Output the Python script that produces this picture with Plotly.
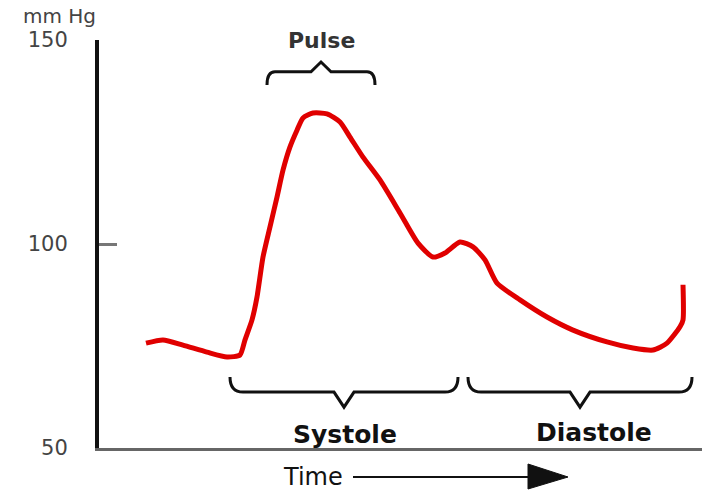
import plotly.graph_objects as go

# ---- data ----
time = [47, 64, 84, 108, 128, 141, 146, 153, 158, 164, 171, 178, 184, 191, 198, 204,
        214, 228, 241, 251, 264, 281, 301, 319, 334, 346, 361, 374, 386, 398, 421,
        448, 474, 508, 534, 554, 568, 581, 584, 584]
pressure = [75.7, 76.5, 75.2, 73.5, 72.3, 72.8, 76.5, 81.4, 87.0, 96.8, 104.2, 111.5,
            118.1, 123.8, 127.9, 130.9, 132.1, 131.9, 129.9, 126.2, 121.3, 115.7, 107.6,
            100.2, 96.8, 97.8, 100.5, 99.3, 96.1, 90.4, 86.3, 82.1, 78.9, 76.0, 74.5,
            74.0, 75.7, 79.7, 81.4, 90.0]
tick_vals = [50, 100, 150]
tick_text = ["50", "100", "150"]
phase_names = ["Systole", "Diastole"]
phase_spans = [(131, 359), (369, 593)]
pulse_span = (168, 276)

W, H = 702, 490
ML, MR, MT, MB = 99, 0, 40, 42
XR = (0, W - ML - MR)
YR = (50, 150)


def px_to_paper(px, py):
    return (px - ML) / (W - ML - MR), (H - MB - py) / (H - MT - MB)


def brace_down(x0, x1, ytop, ymid, ytip, curl=13):
    xm = (x0 + x1) / 2
    return (f"M {x0},{ytop} Q {x0},{ymid} {x0+curl},{ymid} L {xm-10},{ymid} "
            f"L {xm},{ytip} L {xm+10},{ymid} L {x1-curl},{ymid} Q {x1},{ymid} {x1},{ytop}")


fig = go.Figure()
fig.add_trace(go.Scatter(x=time, y=pressure, mode="lines",
                         line=dict(color="#e00000", width=5, shape="spline", smoothing=0.6),
                         hoverinfo="skip"))

shapes = []
for (a, b) in phase_spans:
    shapes.append(dict(type="path", xref="x", yref="y",
                       path=brace_down(a, b, 67.4, 63.7, 60.0),
                       line=dict(color="#111", width=3)))
# pulse brace (tip up)
shapes.append(dict(type="path", xref="x", yref="y",
                   path=brace_down(pulse_span[0], pulse_span[1], 139.0, 142.2, 144.6, curl=8),
                   line=dict(color="#111", width=3)))

# time arrow
x0, y0 = px_to_paper(353, 477)
x1, _ = px_to_paper(530, 477)
shapes.append(dict(type="line", xref="paper", yref="paper", x0=x0, y0=y0, x1=x1, y1=y0,
                   line=dict(color="#111", width=2)))
ta = px_to_paper(528, 464)
tb = px_to_paper(568, 477)
tc = px_to_paper(528, 489)
shapes.append(dict(type="path", xref="paper", yref="paper",
                   path=f"M {ta[0]},{ta[1]} L {tb[0]},{tb[1]} L {tc[0]},{tc[1]} Z",
                   fillcolor="#111", line=dict(color="#111", width=1)))

annotations = []
mx, my = px_to_paper(59, 16)
annotations.append(dict(x=mx, y=my, xref="paper", yref="paper", text="mm Hg",
                        xanchor="center", yanchor="middle",
                        showarrow=False, font=dict(family="DejaVu Sans", size=20, color="#444")))
annotations.append(dict(x=(pulse_span[0] + pulse_span[1]) / 2, y=150, xref="x", yref="y",
                        text="Pulse", showarrow=False, xanchor="center", yanchor="middle",
                        font=dict(family="DejaVu Sans", size=22, color="#333", weight="bold")))
for name, (a, b), cx, v in zip(phase_names, phase_spans, [246, 495], [53.2, 53.7]):
    annotations.append(dict(x=cx, y=v, xref="x", yref="y", text=name, showarrow=False,
                            xanchor="center", yanchor="middle",
                            font=dict(family="DejaVu Sans", size=25, color="#111", weight="bold")))
tx, ty = px_to_paper(313, 477)
annotations.append(dict(x=tx, y=ty, xref="paper", yref="paper", text="Time", showarrow=False,
                        xanchor="center", yanchor="middle",
                        font=dict(family="DejaVu Sans", size=24, color="#111")))

fig.update_layout(
    width=W, height=H,
    margin=dict(l=ML, r=MR, t=MT, b=MB),
    paper_bgcolor="white", plot_bgcolor="white",
    showlegend=False,
    shapes=shapes, annotations=annotations,
    xaxis=dict(range=list(XR), showline=True, linecolor="#666", linewidth=3,
               showgrid=False, zeroline=False, showticklabels=False, ticks=""),
    yaxis=dict(range=list(YR), showline=True, linecolor="#111", linewidth=4,
               showgrid=False, zeroline=False, tickvals=tick_vals, ticktext=tick_text,
               ticks="inside", ticklen=18, tickwidth=3, tickcolor="#777",
               ticklabelstandoff=23,
               tickfont=dict(family="DejaVu Sans", size=21, color="#444")),
)

fig.write_html("out.html", config={"responsive": False, "displayModeBar": False},
               default_width="702px", default_height="490px",
               post_script="document.body.style.margin='0px';document.body.style.overflow='hidden';")
